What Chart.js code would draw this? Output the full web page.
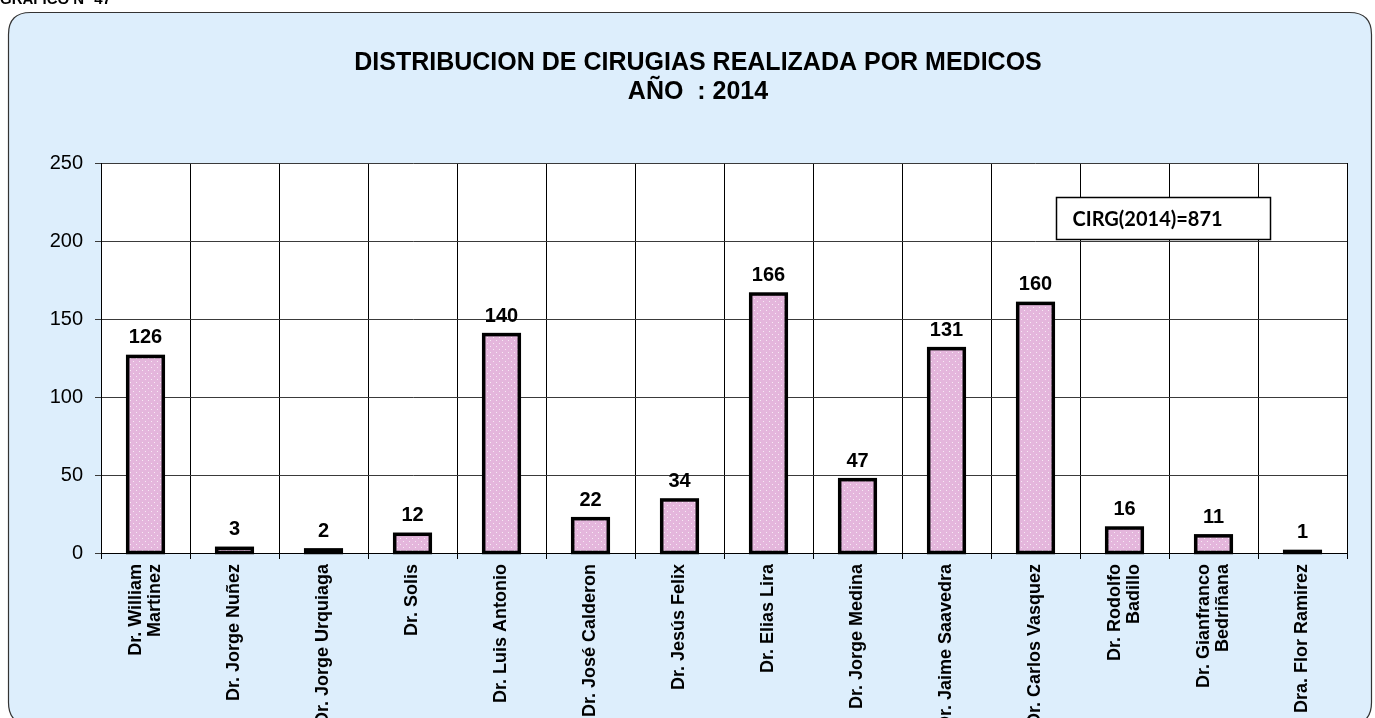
<!DOCTYPE html>
<html>
<head>
<meta charset="utf-8">
<script src="https://cdn.jsdelivr.net/npm/chart.js@4"></script>
<style>
  html, body { margin: 0; padding: 0; background: #fff; }
  #wrap { width: 1375px; height: 718px; }
</style>
</head>
<body>
<div id="wrap"><canvas id="mainChart" width="1375" height="718"></canvas></div>
<script>
// data
let medicos = [
    ["Dr. William", "Martinez"],
    "Dr. Jorge Nuñez",
    "Dr. Jorge Urquiaga",
    "Dr. Solis",
    "Dr. Luis Antonio",
    "Dr. José Calderon",
    "Dr. Jesús Felix",
    "Dr. Elias Lira",
    "Dr. Jorge Medina",
    "Dr. Jaime Saavedra",
    "Dr. Carlos Vasquez",
    ["Dr. Rodolfo", "Badillo"],
    ["Dr. Gianfranco", "Bedriñana"],
    "Dra. Flor Ramirez"
];
let cirugias = [126, 3, 2, 12, 140, 22, 34, 166, 47, 131, 160, 16, 11, 1];
let titulo = ["DISTRIBUCION DE CIRUGIAS REALIZADA POR MEDICOS", "AÑO  : 2014"];
let totalTexto = "CIRG(2014)=871";

const FONT = "'Liberation Sans', Arial, sans-serif";
const LABEL_LH = 18 * 1.1;

// pink with small white dots
function dotPattern() {
    let c = document.createElement("canvas");
    c.width = 6; c.height = 6;
    let g = c.getContext("2d");
    g.fillStyle = "#e4b6dc";
    g.fillRect(0, 0, 6, 6);
    g.fillStyle = "#f8eaf5";
    g.fillRect(1, 1, 1, 1);
    g.fillRect(4, 4, 1, 1);
    return g.createPattern(c, "repeat");
}

function roundRect(ctx, x, y, w, h, r) {
    ctx.beginPath();
    ctx.moveTo(x + r, y);
    ctx.lineTo(x + w - r, y);
    ctx.quadraticCurveTo(x + w, y, x + w, y + r);
    ctx.lineTo(x + w, y + h - r);
    ctx.quadraticCurveTo(x + w, y + h, x + w - r, y + h);
    ctx.lineTo(x + r, y + h);
    ctx.quadraticCurveTo(x, y + h, x, y + h - r);
    ctx.lineTo(x, y + r);
    ctx.quadraticCurveTo(x, y, x + r, y);
    ctx.closePath();
}

let fondo = {
    id: "fondo",
    beforeDraw(chart) {
        let ctx = chart.ctx, a = chart.chartArea;
        // centre the two-line labels on their tick
        let items = chart.scales.x.getLabelItems(a);
        items.forEach(it => {
            if (Array.isArray(it.label) && !it._moved) {
                it.options.translation[0] -= (it.label.length - 1) * LABEL_LH / 2;
                it._moved = true;
            }
        });
        ctx.save();
        ctx.fillStyle = "#000";
        ctx.font = "bold 15px " + FONT;
        ctx.textBaseline = "alphabetic";
        ctx.fillText("GRAFICO N° 47", 0, 4);
        roundRect(ctx, 8.5, 12.5, 1363, 712, 22);
        ctx.fillStyle = "#ddeefc";
        ctx.fill();
        ctx.strokeStyle = "#333";
        ctx.lineWidth = 1.2;
        ctx.stroke();
        ctx.fillStyle = "#fff";
        ctx.fillRect(a.left, a.top, a.right - a.left, a.bottom - a.top);
        // title
        ctx.fillStyle = "#000";
        ctx.textAlign = "center";
        ctx.font = "bold 25px " + FONT;
        ctx.fillText(titulo[0], 698, 70);
        ctx.fillText(titulo[1], 698, 99);
        ctx.restore();
    },
    afterDatasetsDraw(chart) {
        let ctx = chart.ctx;
        let meta = chart.getDatasetMeta(0);
        ctx.save();
        // bar outlines centred on the edges
        ctx.strokeStyle = "#000";
        ctx.lineWidth = 3.5;
        meta.data.forEach(bar => {
            ctx.strokeRect(bar.x - bar.width / 2, bar.y, bar.width, bar.base - bar.y);
        });
        ctx.fillStyle = "#000";
        ctx.font = "bold 20px " + FONT;
        ctx.textAlign = "center";
        ctx.textBaseline = "alphabetic";
        meta.data.forEach((bar, i) => {
            ctx.fillText(String(cirugias[i]), bar.x, bar.y - 13);
        });
        // total box
        let x = Math.round(chart.scales.x.getPixelForValue(10.23)) + 0.5;
        let y = Math.round(chart.scales.y.getPixelForValue(228.2)) + 0.5;
        ctx.fillStyle = "#fff";
        ctx.fillRect(x, y, 214, 42);
        ctx.strokeStyle = "#000";
        ctx.lineWidth = 1.5;
        ctx.strokeRect(x, y, 214, 42);
        ctx.fillStyle = "#000";
        ctx.font = "bold 20px Lato, 'Open Sans', sans-serif";
        ctx.textAlign = "left";
        ctx.textBaseline = "middle";
        ctx.fillText(totalTexto, x + 16, y + 22);
        ctx.restore();
    }
};

let ctx = document.getElementById("mainChart").getContext("2d");

new Chart(ctx, {
    type: "bar",
    data: {
        labels: medicos,
        datasets: [{
            data: cirugias,
            backgroundColor: dotPattern(),
            borderWidth: 0,
            barPercentage: 0.8,
            categoryPercentage: 0.5
        }]
    },
    options: {
        responsive: false,
        animation: false,
        layout: { padding: { top: 163, left: 40, right: 28, bottom: 0 } },
        plugins: {
            legend: { display: false },
            tooltip: { enabled: false }
        },
        scales: {
            x: {
                afterFit(s) { s.height = 165; },
                grid: { color: "#000", lineWidth: 1, tickLength: 6, offset: true },
                border: { color: "#000", width: 1 },
                ticks: {
                    color: "#000",
                    minRotation: 90,
                    maxRotation: 90,
                    autoSkip: false,
                    padding: 5,
                    font: { family: FONT, size: 18, weight: "bold", lineHeight: 1.1 }
                }
            },
            y: {
                min: 0,
                max: 250,
                afterFit(s) { s.width = 61; },
                grid: { color: "#3a3a3a", lineWidth: 1, tickLength: 6 },
                border: { color: "#000", width: 1 },
                ticks: {
                    stepSize: 50,
                    color: "#000",
                    padding: 12,
                    font: { family: FONT, size: 20 }
                }
            }
        }
    },
    plugins: [fondo]
});
</script>
</body>
</html>
